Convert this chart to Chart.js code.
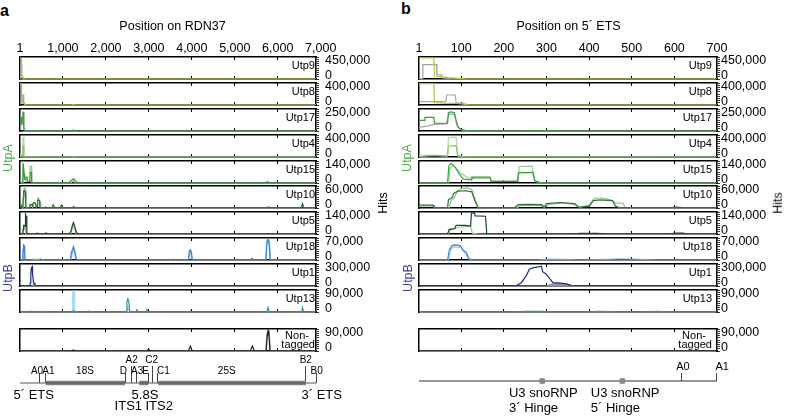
<!DOCTYPE html>
<html>
<head>
<meta charset="utf-8">
<script src="https://cdn.jsdelivr.net/npm/chart.js@4.4.1/dist/chart.umd.min.js"></script>
<style>
  body { margin: 0; background: #fff; }
  #fig { position: relative; width: 788px; height: 416px; overflow: hidden;
         font-family: "Liberation Sans", Arial, Helvetica, sans-serif; }
  #fig canvas { position: absolute; }
  .lbl { position: absolute; line-height: 1; white-space: nowrap; color: #000; }
</style>
</head>
<body>
<div id="fig"></div>
<script>
// ---- data -------------------------------------------------------------
const proteins = ['Utp9', 'Utp8', 'Utp17', 'Utp4', 'Utp15', 'Utp10', 'Utp5', 'Utp18', 'Utp1', 'Utp13', 'Non-tagged'];
const hitMax = [450000, 400000, 250000, 400000, 140000, 60000, 140000, 70000, 300000, 90000, 90000];

// top axis tick labels
const rdnTickPos = [1, 1000, 2000, 3000, 4000, 5000, 6000, 7000];
const rdnTickLabels = ['1', '1,000', '2,000', '3,000', '4,000', '5,000', '6,000', '7,000'];
const etsTickPos = [1, 100, 200, 300, 400, 500, 600, 700];
const etsTickLabels = ['1', '100', '200', '300', '400', '500', '600', '700'];

// hits along the 5' ETS, two replicates (A = dark trace, B = light trace)
const etsUtp9A = [[1,430000],[36,430000],[37,60000],[50,50000],[70,30000],[90,15000],[110,5000],[135,0],[700,0]];
const etsUtp9B = [[1,10000],[9,10000],[10,295000],[42,295000],[43,90000],[54,85000],[55,20000],[75,10000],[110,0],[700,0]];
const etsUtp8A = [[1,388000],[36,388000],[37,45000],[60,35000],[90,30000],[100,20000],[115,5000],[130,0],[700,0]];
const etsUtp8B = [[1,60000],[64,60000],[66,182000],[86,182000],[88,40000],[105,30000],[115,5000],[125,0],[700,0]];
const etsUtp17A = [[1,120000],[14,120000],[15,155000],[36,155000],[37,88000],[68,90000],[70,205000],[74,218000],[84,210000],[88,120000],[93,40000],[100,15000],[110,5000],[130,0],[250,0],[300,4000],[330,0],[700,0]];
const etsUtp17B = [[1,40000],[20,55000],[36,75000],[66,80000],[70,190000],[84,195000],[90,60000],[100,15000],[120,0],[700,0]];
const etsUtp4A = [[1,5000],[15,15000],[40,30000],[60,20000],[68,15000],[70,200000],[88,205000],[92,20000],[110,3000],[300,2000],[700,0]];
const etsUtp4B = [[1,10000],[20,35000],[50,25000],[68,20000],[70,355000],[88,360000],[92,25000],[110,5000],[700,0]];
const etsUtp15A = [[1,0],[68,0],[71,110000],[76,125000],[80,115000],[86,100000],[95,60000],[105,25000],[124,20000],[125,33000],[168,33000],[170,10000],[232,10000],[234,65000],[268,68000],[272,15000],[285,3000],[300,0],[700,0]];
const etsUtp15B = [[1,0],[70,0],[74,100000],[82,110000],[88,95000],[100,60000],[115,35000],[124,30000],[125,40000],[168,40000],[170,12000],[234,12000],[236,105000],[266,108000],[274,10000],[290,0],[700,0]];
const etsUtp10A = [[1,8000],[34,8000],[36,0],[68,0],[70,22000],[80,30000],[82,40000],[93,46000],[110,47000],[125,44000],[132,20000],[140,0],[225,0],[234,9000],[260,10000],[289,9000],[295,3000],[300,12000],[330,15000],[366,12000],[375,2000],[400,5000],[410,20000],[425,22000],[455,20000],[462,5000],[470,1000],[590,1000],[605,2500],[620,1000],[700,0]];
const etsUtp10B = [[1,6000],[34,6000],[36,0],[72,0],[75,18000],[85,30000],[90,45000],[100,53000],[115,55000],[125,50000],[132,25000],[140,0],[230,0],[240,7000],[285,7000],[295,2000],[305,10000],[340,14000],[366,10000],[378,2000],[400,8000],[412,26000],[430,28000],[455,20000],[462,14000],[480,13000],[485,0],[700,0]];
const etsUtp5A = [[1,0],[68,0],[72,30000],[85,35000],[88,55000],[110,55000],[122,50000],[124,133000],[131,133000],[133,115000],[157,113000],[160,0],[360,0],[380,4000],[420,4000],[440,0],[590,0],[600,5000],[620,5000],[630,0],[700,0]];
const etsUtp5B = [[1,0],[70,0],[75,25000],[90,40000],[110,48000],[122,50000],[126,5000],[140,0],[700,0]];
const etsUtp18A = [[1,0],[68,0],[72,30000],[78,45000],[85,48000],[98,46000],[105,30000],[112,25000],[118,5000],[125,0],[700,0]];
const etsUtp18B = [[1,0],[70,0],[75,35000],[85,42000],[100,40000],[110,20000],[120,0],[280,0],[300,3000],[340,2000],[380,0],[440,2000],[480,4000],[520,2000],[560,0],[700,0]];
const etsUtp1A = [[1,3000],[200,3000],[230,5000],[241,45000],[252,135000],[260,230000],[270,250000],[284,265000],[288,270000],[291,195000],[299,165000],[315,45000],[334,40000],[350,25000],[358,0],[700,0]];
const etsUtp1B = [[1,0],[300,0],[315,30000],[340,30000],[355,15000],[365,0],[700,0]];
const etsUtp13A = [[1,0],[230,0],[250,3000],[290,2500],[310,0],[400,0],[420,2500],[450,2000],[470,0],[530,0],[560,2500],[590,0],[700,0]];
const etsUtp13B = [[1,0],[700,0]];
const etsNonTaggedA = [[1,0],[700,0]];
const etsNonTaggedB = [[1,0],[700,0]];

// hits on RDN37 downstream of the 5' ETS (positions > 700)
const rdnUtp9A = [[6890,0]];
const rdnUtp9B = [[6890,0]];
const rdnUtp8A = [[1200,0],[1245,12000],[1290,0],[6890,0]];
const rdnUtp8B = [[6890,0]];
const rdnUtp17A = [[1200,0],[1245,12000],[1290,0],[6890,0]];
const rdnUtp17B = [[6890,0]];
const rdnUtp4A = [[1200,0],[1245,10000],[1290,0],[6890,0]];
const rdnUtp4B = [[6890,0]];
const rdnUtp15A = [[850,0],[900,4000],[950,0],[1150,3000],[1200,18000],[1245,28000],[1290,15000],[1330,3000],[1400,0],[1950,0],[2000,2000],[2050,0],[5700,0],[5760,8000],[5820,0],[6890,0]];
const rdnUtp15B = [[1190,0],[1220,12000],[1245,20000],[1290,0],[6890,0]];
const rdnUtp10A = [[740,0],[773,9000],[820,0],[930,0],[968,8000],[1010,0],[1220,0],[1245,4000],[1280,0],[5760,0],[5790,3000],[5820,0],[6540,0],[6576,12000],[6610,0],[6890,0]];
const rdnUtp10B = [[6545,0],[6576,10000],[6605,0],[6890,0]];
const rdnUtp5A = [[1150,0],[1190,20000],[1220,55000],[1245,73000],[1270,55000],[1300,20000],[1340,0],[1950,0],[2000,2000],[2050,0],[3950,0],[4000,1500],[4050,0],[6890,0]];
const rdnUtp5B = [[1180,0],[1215,30000],[1245,60000],[1275,30000],[1310,0],[6890,0]];
const rdnUtp18A = [[850,0],[900,3000],[950,0],[1170,0],[1200,25000],[1245,42000],[1290,20000],[1320,0],[2950,0],[3000,2000],[3050,0],[3520,0],[3570,3000],[3620,0],[3920,0],[3945,30000],[3967,32000],[3990,25000],[4015,0],[5360,0],[5400,5000],[5440,0],[5725,0],[5750,55000],[5774,66000],[5798,50000],[5825,0],[6890,0]];
const rdnUtp18B = [[1180,0],[1210,15000],[1245,38000],[1285,10000],[1320,0],[3925,0],[3945,20000],[3967,28000],[3990,10000],[4010,0],[5720,0],[5740,60000],[5774,68000],[5808,60000],[5830,0],[6890,0]];
const rdnUtp1A = [[6890,0]];
const rdnUtp1B = [[6890,0]];
const rdnUtp13A = [[1220,0],[1245,5000],[1270,0],[1580,0],[1607,4000],[1640,0],[2470,0],[2490,45000],[2511,54000],[2535,40000],[2555,0],[2700,0],[2722,9000],[2745,0],[2935,0],[2956,9000],[2980,0],[3945,0],[3967,4000],[3990,0],[5035,0],[5058,3000],[5080,0],[5750,0],[5774,18000],[5798,0],[6555,0],[6576,18000],[6600,0],[6890,0]];
const rdnUtp13B = [[1215,0],[1225,80000],[1245,86000],[1265,80000],[1275,0],[2490,0],[2500,20000],[2511,25000],[2525,0],[5760,0],[5774,10000],[5790,0],[6890,0]];
const rdnNonTaggedA = [[1200,0],[1245,4500],[1290,0],[2950,0],[2994,7000],[3040,0],[3920,0],[3967,20000],[4010,0],[5360,0],[5409,20000],[5455,0],[5730,0],[5755,60000],[5774,83000],[5795,60000],[5820,0],[6890,0]];
const rdnNonTaggedB = [[5720,0],[5745,70000],[5774,82000],[5805,70000],[5830,0],[6890,0]];

// RDN37 map: sites and mature rRNAs
const rdnTranscript = [1, 6906];
const rdnMature = [[599, 2445], [2778, 2987], [3220, 6657]];
const rdnSitesShort = [466, 599, 2445, 2717, 2987, 3197, 6890];
const rdnSitesTall = [2585, 3080, 6657];
const rdnMapRow1Pos = [397, 664, 1514, 2405, 2728, 2922, 3336, 4812, 6906];
const rdnMapRow1 = ['A0', 'A1', '18S', 'D', 'A3', 'E', 'C1', '25S', 'B0'];
const rdnMapRow2Pos = [2600, 3066, 6652];
const rdnMapRow2 = ['A2', 'C2', 'B2'];
const rdnMapBot1Pos = [320, 2910, 7023];
const rdnMapBot1 = ['5\u00b4 ETS', '5.8S', '3\u00b4 ETS'];
const rdnMapBot2Pos = [2522, 3241];
const rdnMapBot2 = ['ITS1', 'ITS2'];

// 5' ETS map
const etsSpan = [1, 700];
const etsSites = [616, 700];
const etsSiteLabelPos = [620, 712];
const etsSiteLabels = ['A0', 'A1'];
const etsHinges = [290, 478];
const etsHingeLabelPos = [212, 404];
const etsHingeLabels = [['U3 snoRNP', '3\u00b4 Hinge'], ['U3 snoRNP', '5\u00b4 Hinge']];

// ---- styles -----------------------------------------------------------
const rowColors = [
  ['#b5cc2c', '#a0a0a0'], ['#a6c63a', '#a8a8a8'], ['#3a9e3a', '#a6a6a6'],
  ['#88c56e', '#b9d4ad'], ['#36a336', '#a2c698'], ['#2b7432', '#91c18f'],
  ['#1d4621', '#a6c4a3'], ['#3b84d0', '#8ebde8'], ['#1e2a86', '#8f8fa8'],
  ['#2a95a3', '#a9dcee'], ['#222222', '#9a9a9a']
];
const fillRep = [false, false, false, false, false, false, false, false, true, true, false];

const etsSeries = [
  [etsUtp9A, etsUtp9B], [etsUtp8A, etsUtp8B], [etsUtp17A, etsUtp17B], [etsUtp4A, etsUtp4B],
  [etsUtp15A, etsUtp15B], [etsUtp10A, etsUtp10B], [etsUtp5A, etsUtp5B], [etsUtp18A, etsUtp18B],
  [etsUtp1A, etsUtp1B], [etsUtp13A, etsUtp13B], [etsNonTaggedA, etsNonTaggedB]
];
const rdnTails = [
  [rdnUtp9A, rdnUtp9B], [rdnUtp8A, rdnUtp8B], [rdnUtp17A, rdnUtp17B], [rdnUtp4A, rdnUtp4B],
  [rdnUtp15A, rdnUtp15B], [rdnUtp10A, rdnUtp10B], [rdnUtp5A, rdnUtp5B], [rdnUtp18A, rdnUtp18B],
  [rdnUtp1A, rdnUtp1B], [rdnUtp13A, rdnUtp13B], [rdnNonTaggedA, rdnNonTaggedB]
];
// the full RDN37 trace is the 5' ETS part followed by the rest of the transcript
const rdnSeries = etsSeries.map((pair, r) => pair.map((pts, k) => pts.concat(rdnTails[r][k])));

// ---- layout -----------------------------------------------------------
const rowTops = [57, 83, 109, 135, 161, 186, 212, 238, 264, 290, 329];
const BOX_H = 22;
const PAD = 16;
const FONT = "'Liberation Sans', Arial, Helvetica, sans-serif";
Chart.defaults.font.family = FONT;
Chart.defaults.color = '#000';

const panels = [
  { left: 0, boxL: 20, boxR: 316, min: 1, max: 6890, grid: [1000, 2000, 3000, 4000, 5000, 6000],
    series: rdnSeries, tickPos: rdnTickPos, tickLabels: rdnTickLabels, labelPad: 6, nameR: 315 },
  { left: 394, boxL: 419, boxR: 717, min: 1, max: 700, grid: [100, 200, 300, 400, 500, 600],
    series: etsSeries, tickPos: etsTickPos, tickLabels: etsTickLabels, labelPad: 1, nameR: 712 }
];

const fig = document.getElementById('fig');
const fixH = h => s => { s.height = h; };
const fixW = w => s => { s.width = w; };
const setTicks = vals => s => { s.ticks = vals.map(v => ({ value: v })); };

function addCanvas(left, top, w, h) {
  const cv = document.createElement('canvas');
  cv.width = w; cv.height = h;
  cv.style.left = left + 'px'; cv.style.top = top + 'px';
  cv.style.width = w + 'px'; cv.style.height = h + 'px';
  fig.appendChild(cv);
  return cv;
}

const baseOpts = {
  responsive: false, animation: false, events: [], devicePixelRatio: 1,
  plugins: { legend: { display: false }, tooltip: { enabled: false } }
};

// one framed track per protein
function drawRow(p, r) {
  const cv = addCanvas(p.left, rowTops[r] - PAD, 394, BOX_H + 2 * PAD);
  const maxV = hitMax[r];
  const yTicks = [];
  for (let i = 0; i <= 10; i++) yTicks.push(maxV * i / 10);
  const frame = { display: true, color: '#000', width: 1.5 };
  const datasets = p.series[r].map((pts, k) => ({
    data: pts,
    borderColor: rowColors[r][k],
    backgroundColor: rowColors[r][k],
    borderWidth: 1.2,
    pointRadius: 0,
    fill: k === 1 && fillRep[r] ? 'origin' : false,
    xAxisID: 'x', yAxisID: 'y'
  }));
  new Chart(cv, {
    type: 'line',
    data: { datasets },
    options: {
      ...baseOpts,
      layout: { padding: { left: p.boxL - p.left, right: 0, top: PAD, bottom: PAD } },
      scales: {
        x: { type: 'linear', position: 'bottom', min: p.min, max: p.max,
             afterBuildTicks: setTicks(p.grid), afterFit: fixH(0),
             ticks: { display: false },
             grid: { display: true, drawOnChartArea: true, drawTicks: false, color: '#000', lineWidth: 1 },
             border: { ...frame, dash: [3, BOX_H - 6] } },
        xt: { type: 'linear', position: 'top', min: p.min, max: p.max,
              afterBuildTicks: setTicks(p.grid), afterFit: fixH(0),
              ticks: { display: false },
              grid: { display: true, drawOnChartArea: false, drawTicks: false },
              border: frame },
        yl: { type: 'linear', position: 'left', min: 0, max: 1, afterFit: fixW(0),
              ticks: { display: false },
              grid: { display: true, drawOnChartArea: false, drawTicks: false },
              border: frame },
        y: { type: 'linear', position: 'right', min: 0, max: maxV,
             afterBuildTicks: setTicks(yTicks), afterFit: fixW(p.left + 394 - p.boxR),
             ticks: { autoSkip: false, padding: p.labelPad, color: '#000',
                      font: { size: 12.5, lineHeight: 0.62 },
                      callback: (v, i) => i === 0 ? ['0', ''] : (i === 10 ? ['', maxV.toLocaleString('en-US')] : '') },
             grid: { display: true, drawOnChartArea: false, drawTicks: true, tickLength: 3, tickColor: '#000', tickWidth: 0.8 },
             border: frame }
      }
    }
  });
}

// position labels along the top
function drawStrip(p) {
  const cv = addCanvas(p.left, 37, 394, 20);
  const k = (p.boxR - p.boxL) / (p.max - p.min);
  const last = p.tickPos[p.tickPos.length - 1];
  const right = p.boxL + (last - p.min) * k;
  new Chart(cv, {
    type: 'line',
    data: { datasets: [] },
    options: {
      ...baseOpts,
      layout: { padding: { left: p.boxL - p.left, right: p.left + 394 - right, top: 0, bottom: 0 } },
      scales: {
        x: { type: 'linear', position: 'bottom', min: p.min, max: last,
             afterBuildTicks: setTicks(p.tickPos), afterFit: fixH(16),
             ticks: { autoSkip: false, minRotation: 0, maxRotation: 0, padding: 0,
                      font: { size: 12.5 }, color: '#000', callback: (v, i) => p.tickLabels[i] },
             grid: { display: false, drawTicks: false }, border: { display: false } },
        y: { display: false }
      }
    }
  });
}

// zero-height label rows; mirrored so the labels are not clipped to the axis box
function labelAxis(pos, labels, position, padding, size, extra = {}) {
  return {
    type: 'linear', position, afterBuildTicks: setTicks(pos), afterFit: fixH(0),
    ticks: { autoSkip: false, minRotation: 0, maxRotation: 0, mirror: true, padding, color: '#000',
             font: { size, lineHeight: extra.lineHeight || 1.2 }, align: extra.align || 'center',
             callback: (v, i) => labels[i] },
    grid: { display: false, drawTicks: false }, border: { display: false }
  };
}
function siteAxis(pos, len) {
  return {
    type: 'linear', position: 'top', afterBuildTicks: setTicks(pos), afterFit: fixH(0),
    ticks: { display: false },
    grid: { display: true, drawOnChartArea: false, drawTicks: true, tickLength: len, tickColor: '#444', tickWidth: 1 },
    border: { display: false }
  };
}
function withRange(scales, min, max) {
  Object.values(scales).forEach(s => { if (s.type === 'linear') { s.min = min; s.max = max; } });
  return scales;
}

// RDN37 map under panel a
function drawRdnMap() {
  const p = panels[0];
  const k = (p.boxR - p.boxL) / (p.max - p.min);
  const right = 374;
  const xmax = p.min + (right - p.boxL) / k;
  const cv = addCanvas(0, 340, 394, 76);
  const datasets = [{ data: rdnTranscript.map(v => [v, 1]), borderColor: '#555', borderWidth: 1 }]
    .concat(rdnMature.map(seg => ({ data: seg.map(v => [v, 1]), borderColor: '#808080', borderWidth: 4.5 })));
  datasets.forEach(d => { d.pointRadius = 0; d.clip = false; d.xAxisID = 'x'; d.yAxisID = 'y'; });
  new Chart(cv, {
    type: 'line',
    data: { datasets },
    options: {
      ...baseOpts,
      layout: { padding: { left: p.boxL, right: 394 - right, top: 43, bottom: 31 } },
      scales: withRange({
        x: siteAxis(rdnSitesShort, 10),
        tall: siteAxis(rdnSitesTall, 17),
        lab1: labelAxis(rdnMapRow1Pos, rdnMapRow1, 'top', -17.5, 10),
        lab2: labelAxis(rdnMapRow2Pos, rdnMapRow2, 'top', -29, 10),
        bot1: labelAxis(rdnMapBot1Pos, rdnMapBot1, 'bottom', -17.8, 13),
        bot2: labelAxis(rdnMapBot2Pos, rdnMapBot2, 'bottom', -29.5, 13),
        y: { type: 'category', display: false }
      }, p.min, xmax)
    }
  });
}

// 5' ETS map under panel b
function drawEtsMap() {
  const p = panels[1];
  const k = (p.boxR - p.boxL) / (p.max - p.min);
  const right = 760;
  const xmax = p.min + (right - p.boxL) / k;
  const cv = addCanvas(394, 340, 394, 76);
  const datasets = [
    { data: etsHinges.map(v => [v, 1]), showLine: false, pointStyle: 'rect', pointRadius: 3.2,
      pointBackgroundColor: '#888', pointBorderColor: '#888', borderColor: '#888' },
    { data: etsSpan.map(v => [v, 1]), borderColor: '#333', borderWidth: 1.2, pointRadius: 0 }
  ];
  datasets.forEach(d => { d.clip = false; d.xAxisID = 'x'; d.yAxisID = 'y'; });
  new Chart(cv, {
    type: 'line',
    data: { datasets },
    options: {
      ...baseOpts,
      layout: { padding: { left: p.boxL - p.left, right: 788 - right, top: 41, bottom: 33 } },
      scales: withRange({
        x: siteAxis(etsSites, 8),
        lab1: labelAxis(etsSiteLabelPos, etsSiteLabels, 'top', -20.9, 11),
        bot1: labelAxis(etsHingeLabelPos, etsHingeLabels, 'bottom', -17.65, 13, { align: 'start', lineHeight: 1.13 }),
        y: { type: 'category', display: false }
      }, p.min, xmax)
    }
  });
}

// ---- text -------------------------------------------------------------
function text(str, x, baseline, size, opt = {}) {
  const d = document.createElement('div');
  d.className = 'lbl';
  d.textContent = str;
  d.style.fontSize = size + 'px';
  d.style.left = x + 'px';
  d.style.top = (baseline - 0.8465 * size) + 'px';
  if (opt.bold) d.style.fontWeight = 'bold';
  if (opt.color) d.style.color = opt.color;
  if (opt.align === 'right') d.style.transform = 'translateX(-100%)';
  if (opt.align === 'center') d.style.transform = 'translateX(-50%)';
  fig.appendChild(d);
}
function vtext(str, cx, cy, size, color) {
  const d = document.createElement('div');
  d.className = 'lbl';
  d.textContent = str;
  d.style.fontSize = size + 'px';
  d.style.left = cx + 'px';
  d.style.top = cy + 'px';
  d.style.color = color;
  d.style.transform = 'translate(-50%, -50%) rotate(-90deg)';
  fig.appendChild(d);
}

panels.forEach(p => {
  drawStrip(p);
  proteins.forEach((name, r) => drawRow(p, r));
});
drawRdnMap();
drawEtsMap();

text('a', 0, 17, 16, { bold: true });
text('b', 401, 15, 16, { bold: true });
text('Position on RDN37', 172.5, 30.5, 12.5, { align: 'center' });
text('Position on 5\u00b4 ETS', 568.5, 30.5, 12.5, { align: 'center' });

panels.forEach((p, pi) => {
  proteins.forEach((name, r) => {
    const top = rowTops[r];
    if (name === 'Non-tagged') {
      text('Non-', p.nameR - 18, top + 10.2, 11, { align: 'center' });
      text('tagged', p.nameR, top + 19.3, 11, { align: 'right' });
    } else {
      text(name, p.nameR, top + 12.4, 11, { align: 'right' });
    }
  });
  vtext('Hits', pi === 0 ? 382.5 : 777.5, 202.5, 12.5, '#000');
  vtext('UtpA', pi === 0 ? 7.8 : 406.5, 157.5, 12.5, '#4eaa4e');
  vtext('UtpB', pi === 0 ? 7.8 : 408, 277.5, 12.5, '#3d3d9e');
});
</script>
</body>
</html>
